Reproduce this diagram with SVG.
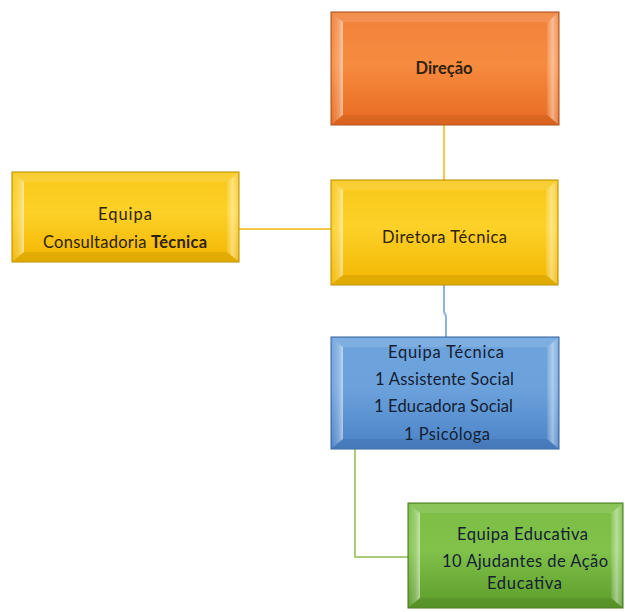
<svg xmlns="http://www.w3.org/2000/svg" width="625" height="612" viewBox="0 0 625 612">
<defs>
<linearGradient id="gO" x1="0" y1="0" x2="0" y2="1"><stop offset="0" stop-color="#f0803a"/><stop offset="0.45" stop-color="#f68c40"/><stop offset="1" stop-color="#e86a20"/></linearGradient>
<linearGradient id="gY" x1="0" y1="0" x2="0" y2="1"><stop offset="0" stop-color="#f8c818"/><stop offset="0.45" stop-color="#fdd128"/><stop offset="1" stop-color="#f2b600"/></linearGradient>
<linearGradient id="gB" x1="0" y1="0" x2="0" y2="1"><stop offset="0" stop-color="#6ea4dc"/><stop offset="0.45" stop-color="#6ca2dc"/><stop offset="1" stop-color="#4a82c6"/></linearGradient>
<linearGradient id="gG" x1="0" y1="0" x2="0" y2="1"><stop offset="0" stop-color="#7cbe44"/><stop offset="0.45" stop-color="#80c24a"/><stop offset="1" stop-color="#5c9c2a"/></linearGradient>
<linearGradient id="bl" x1="0" y1="0" x2="1" y2="0"><stop offset="0" stop-color="#fff" stop-opacity="0.05"/><stop offset="0.6" stop-color="#fff" stop-opacity="0.25"/><stop offset="1" stop-color="#fff" stop-opacity="0.55"/></linearGradient>
<linearGradient id="br" x1="0" y1="0" x2="1" y2="0"><stop offset="0" stop-color="#fff" stop-opacity="0.1"/><stop offset="0.5" stop-color="#fff" stop-opacity="0.45"/><stop offset="1" stop-color="#fff" stop-opacity="0.15"/></linearGradient>
</defs>
<style>
.t{font-family:Lato,"Open Sans","Liberation Sans",sans-serif;font-size:16.5px;text-anchor:middle;fill:#2e220a}
.tb{fill:#142032}
.b{font-weight:bold}
.l{fill:url(#bl)}
.r{fill:url(#br)}
.tp{fill:#fff;opacity:0.12}
.sh{fill:#000;opacity:0.07}
.c{fill:none;stroke-width:2}
</style>
<g id="connectors">
<line class="c" x1="444" y1="125" x2="444" y2="180" stroke="#f4c84a"/>
<line class="c" x1="239" y1="229" x2="331" y2="229" stroke="#f4c84a"/>
<polyline class="c" points="444,285 444,312 446,316 446,337" stroke="#8fb4dc"/>
<polyline class="c" points="355,449 355,557 408,557" stroke="#a8cc7c"/>
</g>
<g id="direcao">
<rect x="331" y="12" width="228" height="113" fill="url(#gO)" stroke="#a8501a" stroke-width="1"/>
<polygon class="tp" points="332,13 558,13 547,22 343,22"/>
<polygon class="l" points="332,13 343,22 343,115 332,124"/>
<polygon class="r" points="558,13 547,22 547,115 558,124"/>
<polygon class="sh" points="332,124 343,115 547,115 558,124"/>
<text class="t b" x="444" y="74" textLength="57">Direção</text>
</g>
<g id="consultadoria">
<rect x="12" y="172" width="227" height="90" fill="url(#gY)" stroke="#b88c00" stroke-width="1"/>
<polygon class="tp" points="13,173 238,173 227,182 24,182"/>
<polygon class="l" points="13,173 24,182 24,252 13,261"/>
<polygon class="r" points="238,173 227,182 227,252 238,261"/>
<polygon class="sh" points="13,261 24,252 227,252 238,261"/>
<text class="t" x="125" y="220" textLength="54">Equipa</text>
<text class="t" x="125" y="248" textLength="164">Consultadoria <tspan class="b">Técnica</tspan></text>
</g>
<g id="diretora">
<rect x="331" y="180" width="227" height="105" fill="url(#gY)" stroke="#b88c00" stroke-width="1"/>
<polygon class="tp" points="332,181 557,181 546,190 343,190"/>
<polygon class="l" points="332,181 343,190 343,275 332,284"/>
<polygon class="r" points="557,181 546,190 546,275 557,284"/>
<polygon class="sh" points="332,284 343,275 546,275 557,284"/>
<text class="t" x="444.5" y="243" textLength="125">Diretora Técnica</text>
</g>
<g id="equipa-tecnica">
<rect x="331" y="337" width="228" height="112" fill="url(#gB)" stroke="#36649c" stroke-width="1"/>
<polygon class="tp" points="332,338 558,338 547,347 343,347"/>
<polygon class="l" points="332,338 343,347 343,439 332,448"/>
<polygon class="r" points="558,338 547,347 547,439 558,448"/>
<polygon class="sh" points="332,448 343,439 547,439 558,448"/>
<text class="t tb" x="446" y="358" textLength="116">Equipa Técnica</text>
<text class="t tb" x="444.5" y="385" textLength="139">1 Assistente Social</text>
<text class="t tb" x="443.5" y="412" textLength="139">1 Educadora Social</text>
<text class="t tb" x="447" y="440" textLength="86">1 Psicóloga</text>
</g>
<g id="equipa-educativa">
<rect x="408" y="503" width="215" height="105" fill="url(#gG)" stroke="#46761f" stroke-width="1"/>
<polygon class="tp" points="409,504 622,504 611,513 420,513"/>
<polygon class="l" points="409,504 420,513 420,598 409,607"/>
<polygon class="r" points="622,504 611,513 611,598 622,607"/>
<polygon class="sh" points="409,607 420,598 611,598 622,607"/>
<text class="t tb" x="522.5" y="540" textLength="131">Equipa Educativa</text>
<text class="t tb" x="525" y="567" textLength="166">10 Ajudantes de Ação</text>
<text class="t tb" x="524.5" y="589" textLength="75">Educativa</text>
</g>
</svg>
